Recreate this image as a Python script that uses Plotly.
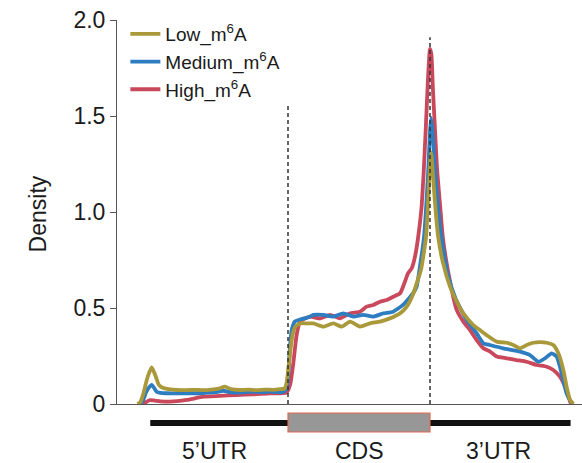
import plotly.graph_objects as go

# Metagene coordinate: 5'UTR 0-1, CDS 1-2, 3'UTR 2-3
low_x = [-0.06, -0.04, -0.02, 0.0, 0.016, 0.04, 0.06, 0.075, 0.09, 0.11, 0.169, 0.22, 0.28, 0.34, 0.40,
         0.46, 0.51, 0.556, 0.60, 0.66, 0.72, 0.78, 0.84, 0.90, 0.95, 0.975, 0.99, 1.005, 1.02, 1.035,
         1.05, 1.085, 1.13, 1.178, 1.249, 1.319, 1.378, 1.437, 1.507, 1.577, 1.648, 1.718, 1.789, 1.836, 1.883,
         1.906, 1.937, 1.972, 1.988, 2.0, 2.008, 2.018, 2.035, 2.056, 2.09, 2.141, 2.188, 2.235, 2.305, 2.352,
         2.399, 2.47, 2.54, 2.587, 2.634, 2.681, 2.728, 2.775, 2.822, 2.868, 2.904, 2.939, 2.962, 2.986, 3.01]
low_y = [0.0, 0.01, 0.05, 0.11, 0.15, 0.19, 0.16, 0.13, 0.10, 0.087, 0.076, 0.073, 0.072, 0.074, 0.072,
         0.075, 0.08, 0.09, 0.077, 0.073, 0.075, 0.072, 0.075, 0.074, 0.078, 0.08, 0.11, 0.2, 0.3, 0.37,
         0.40, 0.42, 0.42, 0.42, 0.403, 0.42, 0.403, 0.429, 0.403, 0.42, 0.429, 0.446, 0.472, 0.507, 0.576,
         0.628, 0.70, 0.87, 1.08, 1.25, 1.31, 1.22, 1.05, 0.88, 0.74, 0.611, 0.533, 0.472, 0.411, 0.385,
         0.359, 0.325, 0.319, 0.307, 0.290, 0.307, 0.319, 0.322, 0.319, 0.307, 0.264, 0.177, 0.09, 0.021, 0.0]

med_x = [-0.04, -0.02, 0.0, 0.02, 0.04, 0.06, 0.075, 0.10, 0.146, 0.22, 0.286, 0.36, 0.427, 0.49, 0.545,
         0.59, 0.638, 0.70, 0.756, 0.82, 0.873, 0.93, 0.967, 0.99, 1.002, 1.014, 1.026, 1.049, 1.085, 1.155,
         1.178, 1.249, 1.319, 1.39, 1.46, 1.53, 1.60, 1.67, 1.74, 1.81, 1.88, 1.906, 1.93, 1.958, 1.975,
         1.99, 2.0, 2.008, 2.02, 2.035, 2.06, 2.08, 2.13, 2.18, 2.258, 2.329, 2.376, 2.423, 2.516, 2.634,
         2.704, 2.763, 2.81, 2.857, 2.892, 2.927, 2.962, 2.986, 3.005]
med_y = [0.0, 0.02, 0.06, 0.085, 0.10, 0.08, 0.064, 0.058, 0.056, 0.055, 0.056, 0.056, 0.059, 0.062, 0.069,
         0.062, 0.059, 0.062, 0.064, 0.062, 0.064, 0.062, 0.064, 0.08, 0.15, 0.30, 0.385, 0.43, 0.44, 0.455,
         0.464, 0.464, 0.455, 0.472, 0.455, 0.464, 0.455, 0.472, 0.481, 0.516, 0.576, 0.611, 0.72, 0.87, 1.05,
         1.25, 1.42, 1.49, 1.40, 1.22, 1.0, 0.87, 0.66, 0.55, 0.4375, 0.368, 0.316, 0.307, 0.29, 0.273,
         0.255, 0.22, 0.238, 0.264, 0.247, 0.16, 0.056, 0.02, 0.0]

high_x = [-0.02, 0.0, 0.028, 0.06, 0.10, 0.169, 0.286, 0.404, 0.521, 0.638, 0.756, 0.873, 0.95, 0.99, 1.015,
          1.037, 1.061, 1.085, 1.155, 1.225, 1.296, 1.366, 1.437, 1.507, 1.554, 1.601, 1.648, 1.695, 1.742, 1.789,
          1.82, 1.845, 1.873, 1.895, 1.915, 1.94, 1.955, 1.97, 1.985, 2.0, 2.01, 2.02, 2.035, 2.05, 2.075,
          2.09, 2.13, 2.188, 2.235, 2.282, 2.329, 2.376, 2.423, 2.47, 2.54, 2.61, 2.681, 2.751, 2.822, 2.868,
          2.915, 2.951, 2.974, 2.993]
high_y = [0.0, 0.01, 0.02, 0.018, 0.014, 0.012, 0.021, 0.038, 0.042, 0.047, 0.05, 0.056, 0.056, 0.06, 0.10,
          0.21, 0.36, 0.43, 0.455, 0.446, 0.464, 0.446, 0.472, 0.481, 0.507, 0.516, 0.533, 0.542, 0.559, 0.576,
          0.63, 0.68, 0.71, 0.77, 0.86, 1.02, 1.2, 1.43, 1.68, 1.85, 1.82, 1.65, 1.43, 1.22, 1.0,
          0.87, 0.68, 0.49, 0.429, 0.385, 0.333, 0.29, 0.273, 0.247, 0.238, 0.229, 0.22, 0.203, 0.194, 0.177,
          0.142, 0.09, 0.038, 0.0]

series_names = ["Low_m<sup>6</sup>A", "Medium_m<sup>6</sup>A", "High_m<sup>6</sup>A"]
series_colors = ["#A9993A", "#2D7DC0", "#C9485B"]

region_labels = ["5\u2019UTR", "CDS", "3\u2019UTR"]
region_label_pos = [0.48, 1.5, 2.48]
utr5_span = [0.03, 1.0]
cds_span = [1.0, 2.0]
utr3_span = [2.0, 2.99]
boundary_x = [1.0, 2.0]
boundary_top = [1.56, 1.91]

y_tickvals = [0, 0.5, 1.0, 1.5, 2.0]
y_ticktext = ["0", "0.5", "1.0", "1.5", "2.0"]

FONT = "Liberation Sans, Arial, Helvetica, sans-serif"

fig = go.Figure()
# draw High first so Low is on top
data = [(low_x, low_y), (med_x, med_y), (high_x, high_y)]
for i in [2, 1, 0]:
    xs, ys = data[i]
    assert len(xs) == len(ys)
    fig.add_trace(go.Scatter(
        x=xs, y=ys, mode="lines", name=series_names[i],
        line=dict(color=series_colors[i], width=3.8, shape="spline", smoothing=0.5),
    ))

shapes = []
for bx, bt in zip(boundary_x, boundary_top):
    shapes.append(dict(type="line", xref="x", yref="y", x0=bx, x1=bx, y0=0, y1=bt,
                       line=dict(color="#333333", width=1.5, dash="4px,3px"), layer="above"))
for span in (utr5_span, utr3_span):
    shapes.append(dict(type="line", xref="x", yref="paper", x0=span[0], x1=span[1],
                       y0=-0.0495, y1=-0.0495, line=dict(color="#111111", width=6)))
shapes.append(dict(type="rect", xref="x", yref="paper", x0=cds_span[0], x1=cds_span[1],
                   y0=-0.0729, y1=-0.0234, fillcolor="#979797",
                   line=dict(color="#E2694F", width=1.2)))

annotations = []
for lab, pos in zip(region_labels, region_label_pos):
    annotations.append(dict(text=lab, x=pos, y=-0.122, xref="x", yref="paper",
                            showarrow=False, xanchor="center", yanchor="middle",
                            font=dict(family=FONT, size=23, color="#1a1a1a")))
annotations.append(dict(text="Density", x=-0.171, y=0.495, xref="paper", yref="paper",
                        textangle=-90, showarrow=False, xanchor="center", yanchor="middle",
                        font=dict(family=FONT, size=23, color="#1a1a1a")))

fig.update_layout(
    width=582, height=463,
    margin=dict(l=117, r=0, t=20, b=59),
    paper_bgcolor="white", plot_bgcolor="white",
    font=dict(family=FONT, color="#1a1a1a"),
    shapes=shapes, annotations=annotations,
    legend=dict(x=0.018, y=1.013, xanchor="left", yanchor="top",
                traceorder="reversed", bgcolor="rgba(0,0,0,0)",
                font=dict(family=FONT, size=19, color="#1a1a1a"),
                itemwidth=30, tracegroupgap=0),
    showlegend=True,
)
fig.update_xaxes(range=[-0.2042, 3.0704], showgrid=False, zeroline=False,
                 showline=True, linecolor="#555555", linewidth=1,
                 showticklabels=False, ticks="")
fig.update_yaxes(range=[0, 2.0], showgrid=False, zeroline=False,
                 showline=True, linecolor="#555555", linewidth=1,
                 ticks="outside", ticklen=6, tickcolor="#555555",
                 tickvals=y_tickvals, ticktext=y_ticktext,
                 tickfont=dict(family=FONT, size=23, color="#1a1a1a"))

fig.write_html("out.html", config={"displayModeBar": False},
               post_script="document.body.style.margin='0';")
